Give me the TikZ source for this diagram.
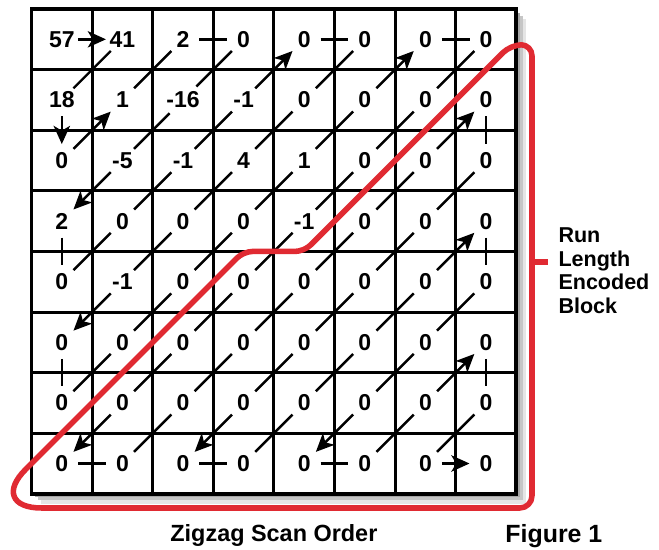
\documentclass[tikz,border=0pt]{standalone}
\usepackage{fontspec}
\setmainfont{Liberation Sans}
\usetikzlibrary{arrows.meta}
\definecolor{runred}{RGB}{224,42,50}

\begin{document}
\begin{tikzpicture}[x=1cm,y=1cm]
\tikzset{
  cellnum/.style={circle,inner sep=0pt,minimum size=5.3mm,font=\fontsize{10.8}{13}\selectfont\bfseries},
  scanline/.style={line width=1.15pt},
  >={Stealth[length=3mm,width=2.7mm,inset=0.8mm]},
  gridline/.style={line width=1.4pt},
  runpath/.style={draw=runred,line width=2.6pt,line join=round},
  sidelabel/.style={align=left,inner sep=0pt,anchor=west,font=\fontsize{10.1}{11.1}\selectfont\bfseries},
  caption/.style={inner sep=0pt,anchor=base,font=\fontsize{11}{13}\selectfont\bfseries},
  % arrow tips on the diagonals, keyed by the grid corner they cross
  diag 2-1/.style={<-}, diag 3-1/.style={->}, diag 1-4/.style={<-},
  diag 5-1/.style={->}, diag 1-6/.style={<-}, diag 7-1/.style={->},
  diag 2-7/.style={<-}, diag 7-3/.style={->}, diag 4-7/.style={<-},
  diag 7-5/.style={->}, diag 6-7/.style={<-}
}
\useasboundingbox (-0.52,0.149) rectangle (10.355,-8.911);
% block with its shadow
\fill[gray!20] (0.16,-0.16) rectangle (8.16,-8.16);
\fill[gray!45] (0.11,-0.11) rectangle (8.11,-8.11);
\fill[gray!70] (0.06,-0.06) rectangle (8.06,-8.06);
\fill[white] (0,0) rectangle (8,-8);
\draw[gridline] (0,0) grid (8,-8);
\draw[gridline,line width=1.7pt] (0,0) rectangle (8,-8);
% coefficients
\foreach \row [count=\r from 0] in {{57,41,2,0,0,0,0,0},{18,1,-16,-1,0,0,0,0},
    {0,-5,-1,4,1,0,0,0},{2,0,0,0,-1,0,0,0},{0,-1,0,0,0,0,0,0},
    {0,0,0,0,0,0,0,0},{0,0,0,0,0,0,0,0},{0,0,0,0,0,0,0,0}}
  \foreach \val [count=\c from 0] in \row
    \node[cellnum] (n_\r_\c) at (\c+0.5,-\r-0.5) {\val};
% zigzag steps along the diagonals
\foreach \i in {1,...,7}
  \foreach \j in {1,...,7} {
    \pgfmathtruncatemacro\ia{\i-1}
    \pgfmathtruncatemacro\jb{\j-1}
    \draw[scanline,diag \i-\j/.try] (n_\ia_\j) -- (n_\i_\jb);
  }
% zigzag steps along the edges
\draw[scanline,->] (n_0_0) -- (n_0_1);
\draw[scanline,->] (n_1_0) -- (n_2_0);
\draw[scanline] (n_0_2) -- (n_0_3);
\draw[scanline] (n_3_0) -- (n_4_0);
\draw[scanline] (n_0_4) -- (n_0_5);
\draw[scanline] (n_5_0) -- (n_6_0);
\draw[scanline] (n_0_6) -- (n_0_7);
\draw[scanline] (n_7_0) -- (n_7_1);
\draw[scanline] (n_1_7) -- (n_2_7);
\draw[scanline] (n_7_2) -- (n_7_3);
\draw[scanline] (n_3_7) -- (n_4_7);
\draw[scanline] (n_7_4) -- (n_7_5);
\draw[scanline] (n_5_7) -- (n_6_7);
\draw[scanline,->] (n_7_6) -- (n_7_7);
% run length encoded part
\draw[runpath] (4,-8.234)
  [rounded corners=0.9cm] -- (-0.734,-8.234)
  [rounded corners=0.15cm] -- (3.5,-4) -- (4.5,-4)
  [rounded corners=0.18cm] -- (7.91,-0.59) -- (8.259,-0.59)
  [rounded corners=0.2cm] -- (8.259,-8.234) -- cycle;
\node[sidelabel] (rle) at (8.69,-4.32) {Run\\Length\\Encoded\\Block};
\coordinate (tick) at (8.259,-4.175);
\draw[runpath] (tick) -- ([xshift=-0.17cm]tick -| rle.west);
\node[caption] (zz) at (4,-8.795) {Zigzag Scan Order};
\node[caption,font=\fontsize{11.7}{14}\selectfont\bfseries] (fig) at (8.62,-8.81) {Figure 1};
\end{tikzpicture}
\end{document}
